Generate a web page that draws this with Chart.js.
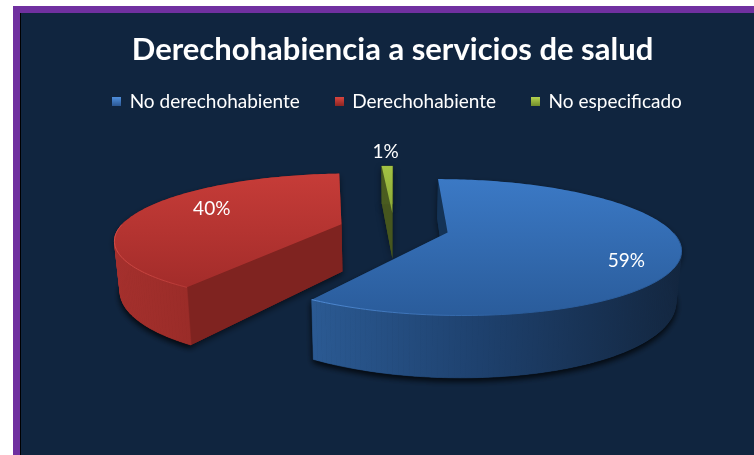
<!DOCTYPE html>
<html><head><meta charset="utf-8">
<style>html,body{margin:0;padding:0;background:#fff;overflow:hidden}canvas{display:block}</style>
<script src="https://cdn.jsdelivr.net/npm/chart.js@4"></script>
</head><body>
<div style="width:754px;height:455px;position:relative"><canvas id="c" width="754" height="455"></canvas></div>
<script>
const categories = ['No derechohabiente','Derechohabiente','No especificado'];
const values = [59,40,1];
const titleText = 'Derechohabiencia a servicios de salud';
const baseColors = ['#3a78c2','#c23a36','#9bbb3c'];
const FONT = 'Lato, "Open Sans", sans-serif';

// view parameters of the tilted pie
const V = {cx:394, cy:228, R:222, D:1033, k:0.284, H:48, e:55, taper:0.98};
const looks = [
 {top:['#3b79c5','#2a5c9b'], wall:[['0','#2b5a93'],['0.45','#1e416e'],['1','#13263f']], face:'#143356', rim:'#4f8ad4'},
 {top:['#c63c38','#a32c2a'], wall:[['0','#a5302d'],['1','#86241f']], face:'#7f2320', rim:'#d24b46'},
 {top:['#a3c244','#8aa836'], wall:[['0','#4a5c20'],['1','#4a5c20']], face:'#46561e', rim:'#a3c244'}
];
const labelPlace = [{f:0.775,dx:0,dy:14},{f:0.64,dx:0,dy:-6},{f:1.12,dx:-1,dy:-10}];
const drawOrder = [2,1,0];

function P(X,Y,down){
  const s = V.D/(V.D-Y);
  let x = V.cx+X*s, y = V.cy+V.k*Y*s;
  if(down){ x = V.cx+(x-V.cx)*V.taper; y += V.H*s; }
  return [x,y];
}
function trace(ctx,pts){ctx.beginPath();pts.forEach((p,i)=>i?ctx.lineTo(p[0],p[1]):ctx.moveTo(p[0],p[1]));ctx.closePath();}

const pie3d = {
  id:'pie3d',
  beforeDraw(chart){
    const {ctx,width,height}=chart;
    ctx.save();
    ctx.fillStyle='#fff';ctx.fillRect(0,0,width,height);
    ctx.fillStyle='#7030a0';ctx.fillRect(13,6,width-13,height-6);
    ctx.fillStyle='#10253f';ctx.fillRect(20,13,width-20,height-13);
    ctx.fillStyle='#000';ctx.fillRect(20,13,1,height-13);
    ctx.restore();
  },
  afterLayout(chart){ chart.legend.left += 10; },
  beforeDatasetsDraw(chart){
    const ctx=chart.ctx, arcs=chart.getDatasetMeta(0).data;
    ctx.save();
    drawOrder.forEach(i=>{
      const a=arcs[i], L=looks[i];
      const mid=(a.startAngle+a.endAngle)/2;
      const ox=V.e*Math.cos(mid), oy=V.e*Math.sin(mid);
      const n=Math.max(4,Math.round((a.endAngle-a.startAngle)/0.02));
      const rimW=[];
      for(let j=0;j<=n;j++){const t=a.startAngle+(a.endAngle-a.startAngle)*j/n;rimW.push([ox+V.R*Math.cos(t),oy+V.R*Math.sin(t)]);}
      const rim=rimW.map(w=>P(w[0],w[1],false)), rimD=rimW.map(w=>P(w[0],w[1],true));
      const ap=P(ox,oy,false), apD=P(ox,oy,true);
      // soft shadow under the body
      ctx.save();ctx.shadowColor='rgba(0,0,0,0.55)';ctx.shadowBlur=6;ctx.shadowOffsetY=3;ctx.fillStyle=L.face;
      trace(ctx,[ap,apD].concat(rimD,[rim[rim.length-1]]));ctx.fill();
      trace(ctx,rim.concat(rimD.slice().reverse()));ctx.fill();
      ctx.restore();
      // radial faces
      ctx.fillStyle=L.face;
      trace(ctx,[ap,rim[0],rimD[0],apD]);ctx.fill();
      trace(ctx,[ap,rim[n],rimD[n],apD]);ctx.fill();
      // outer wall
      let minX=1e9,maxX=-1e9;rim.forEach(p=>{minX=Math.min(minX,p[0]);maxX=Math.max(maxX,p[0]);});
      const gw=ctx.createLinearGradient(minX,0,maxX,0);
      L.wall.forEach(s=>gw.addColorStop(+s[0],s[1]));
      ctx.fillStyle=gw;
      for(let j=0;j<n;j++){
        if(rimW[j][1]+rimW[j+1][1] < 2*oy-V.R*0.1 && i!==2) continue;
        trace(ctx,[rim[j],rim[j+1],rimD[j+1],rimD[j]]);ctx.fill();ctx.strokeStyle=gw;ctx.lineWidth=0.6;ctx.stroke();
      }
      // top surface
      let minY=1e9,maxY=-1e9;rim.concat([ap]).forEach(p=>{minY=Math.min(minY,p[1]);maxY=Math.max(maxY,p[1]);});
      const gt=ctx.createLinearGradient(0,minY,0,maxY);
      gt.addColorStop(0,L.top[0]);gt.addColorStop(1,L.top[1]);
      ctx.fillStyle=gt;trace(ctx,[ap].concat(rim));ctx.fill();
      // light rim along near edge, fading toward the right
      const gr=ctx.createLinearGradient(minX,0,minX+(maxX-minX)*0.55,0);
      gr.addColorStop(0,L.rim);gr.addColorStop(1,L.top[1]);
      ctx.strokeStyle=gr;ctx.lineWidth=1;ctx.beginPath();let on=false;
      rimW.forEach((w,j)=>{ if(w[1]>oy){ if(on)ctx.lineTo(rim[j][0],rim[j][1]); else {ctx.moveTo(rim[j][0],rim[j][1]);on=true;} } else on=false; });
      ctx.stroke();
    });
    // percentage labels
    ctx.fillStyle='#fff';ctx.font='19px '+FONT;ctx.textAlign='center';ctx.textBaseline='middle';
    arcs.forEach((a,i)=>{
      const mid=(a.startAngle+a.endAngle)/2,p=labelPlace[i];
      const r=V.e+p.f*V.R;
      const q=P(r*Math.cos(mid),r*Math.sin(mid),false);
      ctx.fillText(values[i]+'%',q[0]+p.dx,q[1]+p.dy);
    });
    ctx.restore();
    return false;
  }
};

function icon(c1,c2){
  const c=document.createElement('canvas');c.width=9;c.height=9;
  const x=c.getContext('2d'),g=x.createLinearGradient(0,0,0,9);
  g.addColorStop(0,c1);g.addColorStop(1,c2);x.fillStyle=g;x.fillRect(0,0,9,9);
  return c;
}
const icons=[icon('#4f8fdc','#2a5590'),icon('#d8453f','#8a2522'),icon('#b4d24e','#6f8a2a')];
const baseLabels=Chart.overrides.pie.plugins.legend.labels.generateLabels;

new Chart(document.getElementById('c'),{
  type:'pie',
  data:{labels:categories,datasets:[{data:values,backgroundColor:baseColors,borderWidth:0}]},
  options:{
    responsive:false,animation:false,rotation:0,
    layout:{padding:{left:31,top:20,right:0,bottom:0}},
    plugins:{
      tooltip:{enabled:false},
      title:{display:true,text:titleText,color:'#fff',font:{family:FONT,size:31,weight:'bold'},padding:{top:11,bottom:-12}},
      legend:{display:true,position:'top',labels:{
        color:'#fff',font:{family:FONT,size:19},usePointStyle:true,boxWidth:7,boxHeight:9,padding:36,
        generateLabels(chart){return baseLabels(chart).map((l,i)=>Object.assign(l,{pointStyle:icons[i],fontColor:'#fff'}));}
      }}
    }
  },
  plugins:[pie3d]
});
</script>
</body></html>
